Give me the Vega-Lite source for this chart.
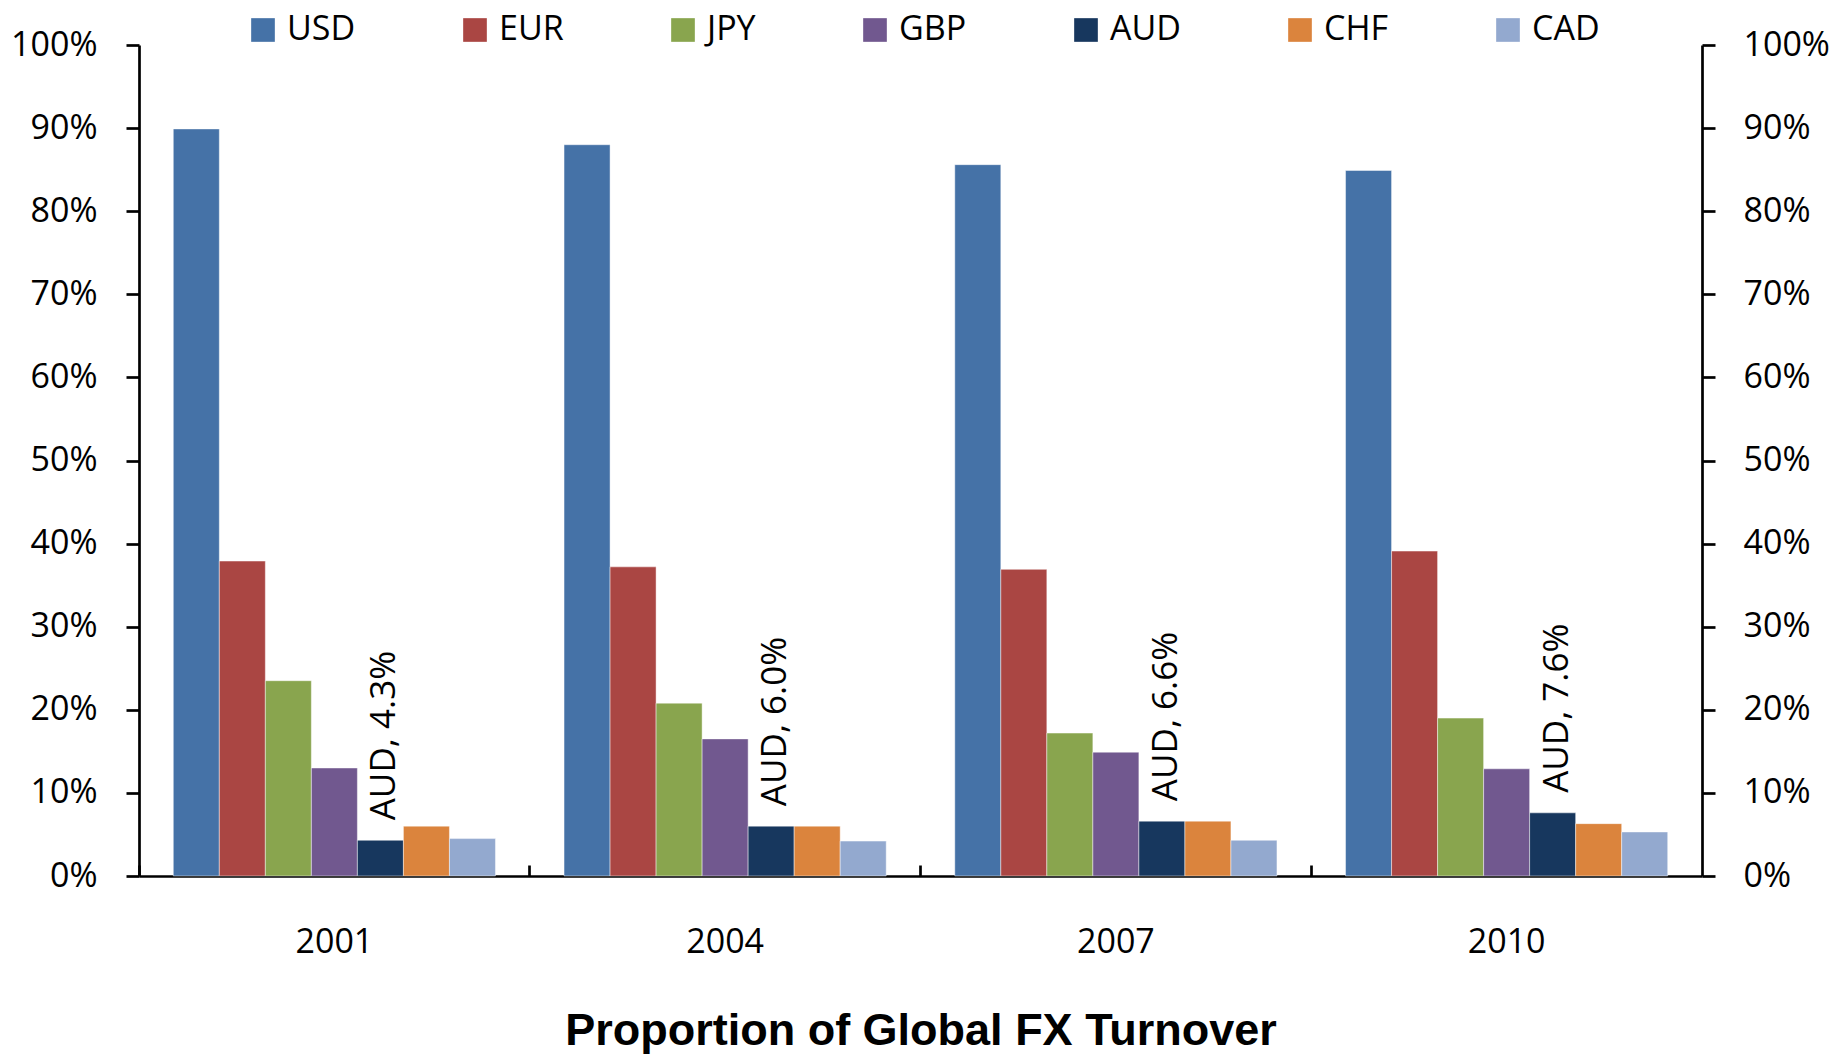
{
  "$schema": "https://vega.github.io/schema/vega-lite/v6.json",
  "width": 1563,
  "height": 831,
  "autosize": {"type": "none"},
  "padding": {"left": 139, "top": 45, "right": 133, "bottom": 179},
  "background": "white",
  "config": {"view": {"stroke": null}},
  "data": {
    "values": [
      {"year": "2001", "currency": "USD", "share": 89.9},
      {"year": "2001", "currency": "EUR", "share": 37.9},
      {"year": "2001", "currency": "JPY", "share": 23.5},
      {"year": "2001", "currency": "GBP", "share": 13.0},
      {"year": "2001", "currency": "AUD", "share": 4.3, "label": "AUD, 4.3%"},
      {"year": "2001", "currency": "CHF", "share": 6.0},
      {"year": "2001", "currency": "CAD", "share": 4.5},
      {"year": "2004", "currency": "USD", "share": 88.0},
      {"year": "2004", "currency": "EUR", "share": 37.2},
      {"year": "2004", "currency": "JPY", "share": 20.8},
      {"year": "2004", "currency": "GBP", "share": 16.5},
      {"year": "2004", "currency": "AUD", "share": 6.0, "label": "AUD, 6.0%"},
      {"year": "2004", "currency": "CHF", "share": 6.0},
      {"year": "2004", "currency": "CAD", "share": 4.2},
      {"year": "2007", "currency": "USD", "share": 85.6},
      {"year": "2007", "currency": "EUR", "share": 36.9},
      {"year": "2007", "currency": "JPY", "share": 17.2},
      {"year": "2007", "currency": "GBP", "share": 14.9},
      {"year": "2007", "currency": "AUD", "share": 6.6, "label": "AUD, 6.6%"},
      {"year": "2007", "currency": "CHF", "share": 6.6},
      {"year": "2007", "currency": "CAD", "share": 4.3},
      {"year": "2010", "currency": "USD", "share": 84.9},
      {"year": "2010", "currency": "EUR", "share": 39.1},
      {"year": "2010", "currency": "JPY", "share": 19.0},
      {"year": "2010", "currency": "GBP", "share": 12.9},
      {"year": "2010", "currency": "AUD", "share": 7.6, "label": "AUD, 7.6%"},
      {"year": "2010", "currency": "CHF", "share": 6.3},
      {"year": "2010", "currency": "CAD", "share": 5.3}
    ]
  },
  "encoding": {
    "x": {
      "field": "year",
      "type": "nominal",
      "scale": {"paddingInner": 0, "paddingOuter": 0},
      "axis": {
        "orient": "bottom",
        "bandPosition": 0,
        "tickSize": -11,
        "tickWidth": 2.7,
        "tickColor": "black",
        "domainColor": "black",
        "domainWidth": 2.7,
        "labelAngle": 0,
        "labelFont": "Open Sans",
        "labelFontSize": 34,
        "labelColor": "black",
        "labelPadding": 60,
        "title": "Proportion of Global FX Turnover",
        "titleFont": "Liberation Sans",
        "titleFontSize": 45,
        "titleFontWeight": "bold",
        "titleColor": "black",
        "titlePadding": 49
      }
    },
    "xOffset": {
      "field": "currency",
      "type": "nominal",
      "scale": {
        "domain": ["USD", "EUR", "JPY", "GBP", "AUD", "CHF", "CAD"],
        "paddingInner": 0,
        "paddingOuter": 0.745
      }
    }
  },
  "layer": [
    {
      "mark": {"type": "bar", "stroke": "#ffffff", "strokeWidth": 1, "strokeOpacity": 0.45},
      "encoding": {
        "y": {
          "field": "share",
          "type": "quantitative",
          "scale": {"domain": [0, 100], "nice": false},
          "axis": {
            "orient": "left",
            "values": [0, 10, 20, 30, 40, 50, 60, 70, 80, 90, 100],
            "labelExpr": "datum.value + '%'",
            "tickSize": 13,
            "tickWidth": 2.7,
            "tickColor": "black",
            "domainColor": "black",
            "domainWidth": 2.7,
            "labelFont": "Open Sans",
            "labelFontSize": 34,
            "labelColor": "black",
            "labelPadding": 29,
            "labelOverlap": false,
            "grid": false,
            "title": null
          }
        },
        "color": {
          "field": "currency",
          "type": "nominal",
          "scale": {
            "domain": ["USD", "EUR", "JPY", "GBP", "AUD", "CHF", "CAD"],
            "range": ["#4572A7", "#AA4643", "#89A54E", "#71588F", "#17375E", "#DB843D", "#93A9CF"]
          },
          "legend": {
            "orient": "none",
            "legendX": 107,
            "legendY": -32,
            "direction": "horizontal",
            "title": null,
            "symbolType": "square",
            "symbolSize": 560,
            "symbolStrokeWidth": 0,
            "symbolOpacity": 1,
            "labelFont": "Open Sans",
            "labelFontSize": 34,
            "labelColor": "black",
            "labelOffset": 7,
            "columnPadding": 102,
            "padding": 0,
            "labelLimit": 0
          }
        }
      }
    },
    {
      "transform": [{"filter": "datum.currency == 'AUD'"}],
      "mark": {
        "type": "text",
        "angle": 270,
        "align": "left",
        "baseline": "middle",
        "dx": 20,
        "dy": 4,
        "font": "Open Sans",
        "fontSize": 35,
        "color": "black"
      },
      "encoding": {
        "y": {
          "field": "share",
          "type": "quantitative",
          "scale": {"domain": [0, 100], "nice": false},
          "axis": {
            "orient": "right",
            "values": [0, 10, 20, 30, 40, 50, 60, 70, 80, 90, 100],
            "labelExpr": "datum.value + '%'",
            "tickSize": 13,
            "tickWidth": 2.7,
            "tickColor": "black",
            "domainColor": "black",
            "domainWidth": 2.7,
            "labelFont": "Open Sans",
            "labelFontSize": 34,
            "labelColor": "black",
            "labelPadding": 28,
            "labelOverlap": false,
            "grid": false,
            "title": null
          }
        },
        "text": {"field": "label"}
      }
    }
  ],
  "resolve": {"scale": {"y": "independent"}}
}
